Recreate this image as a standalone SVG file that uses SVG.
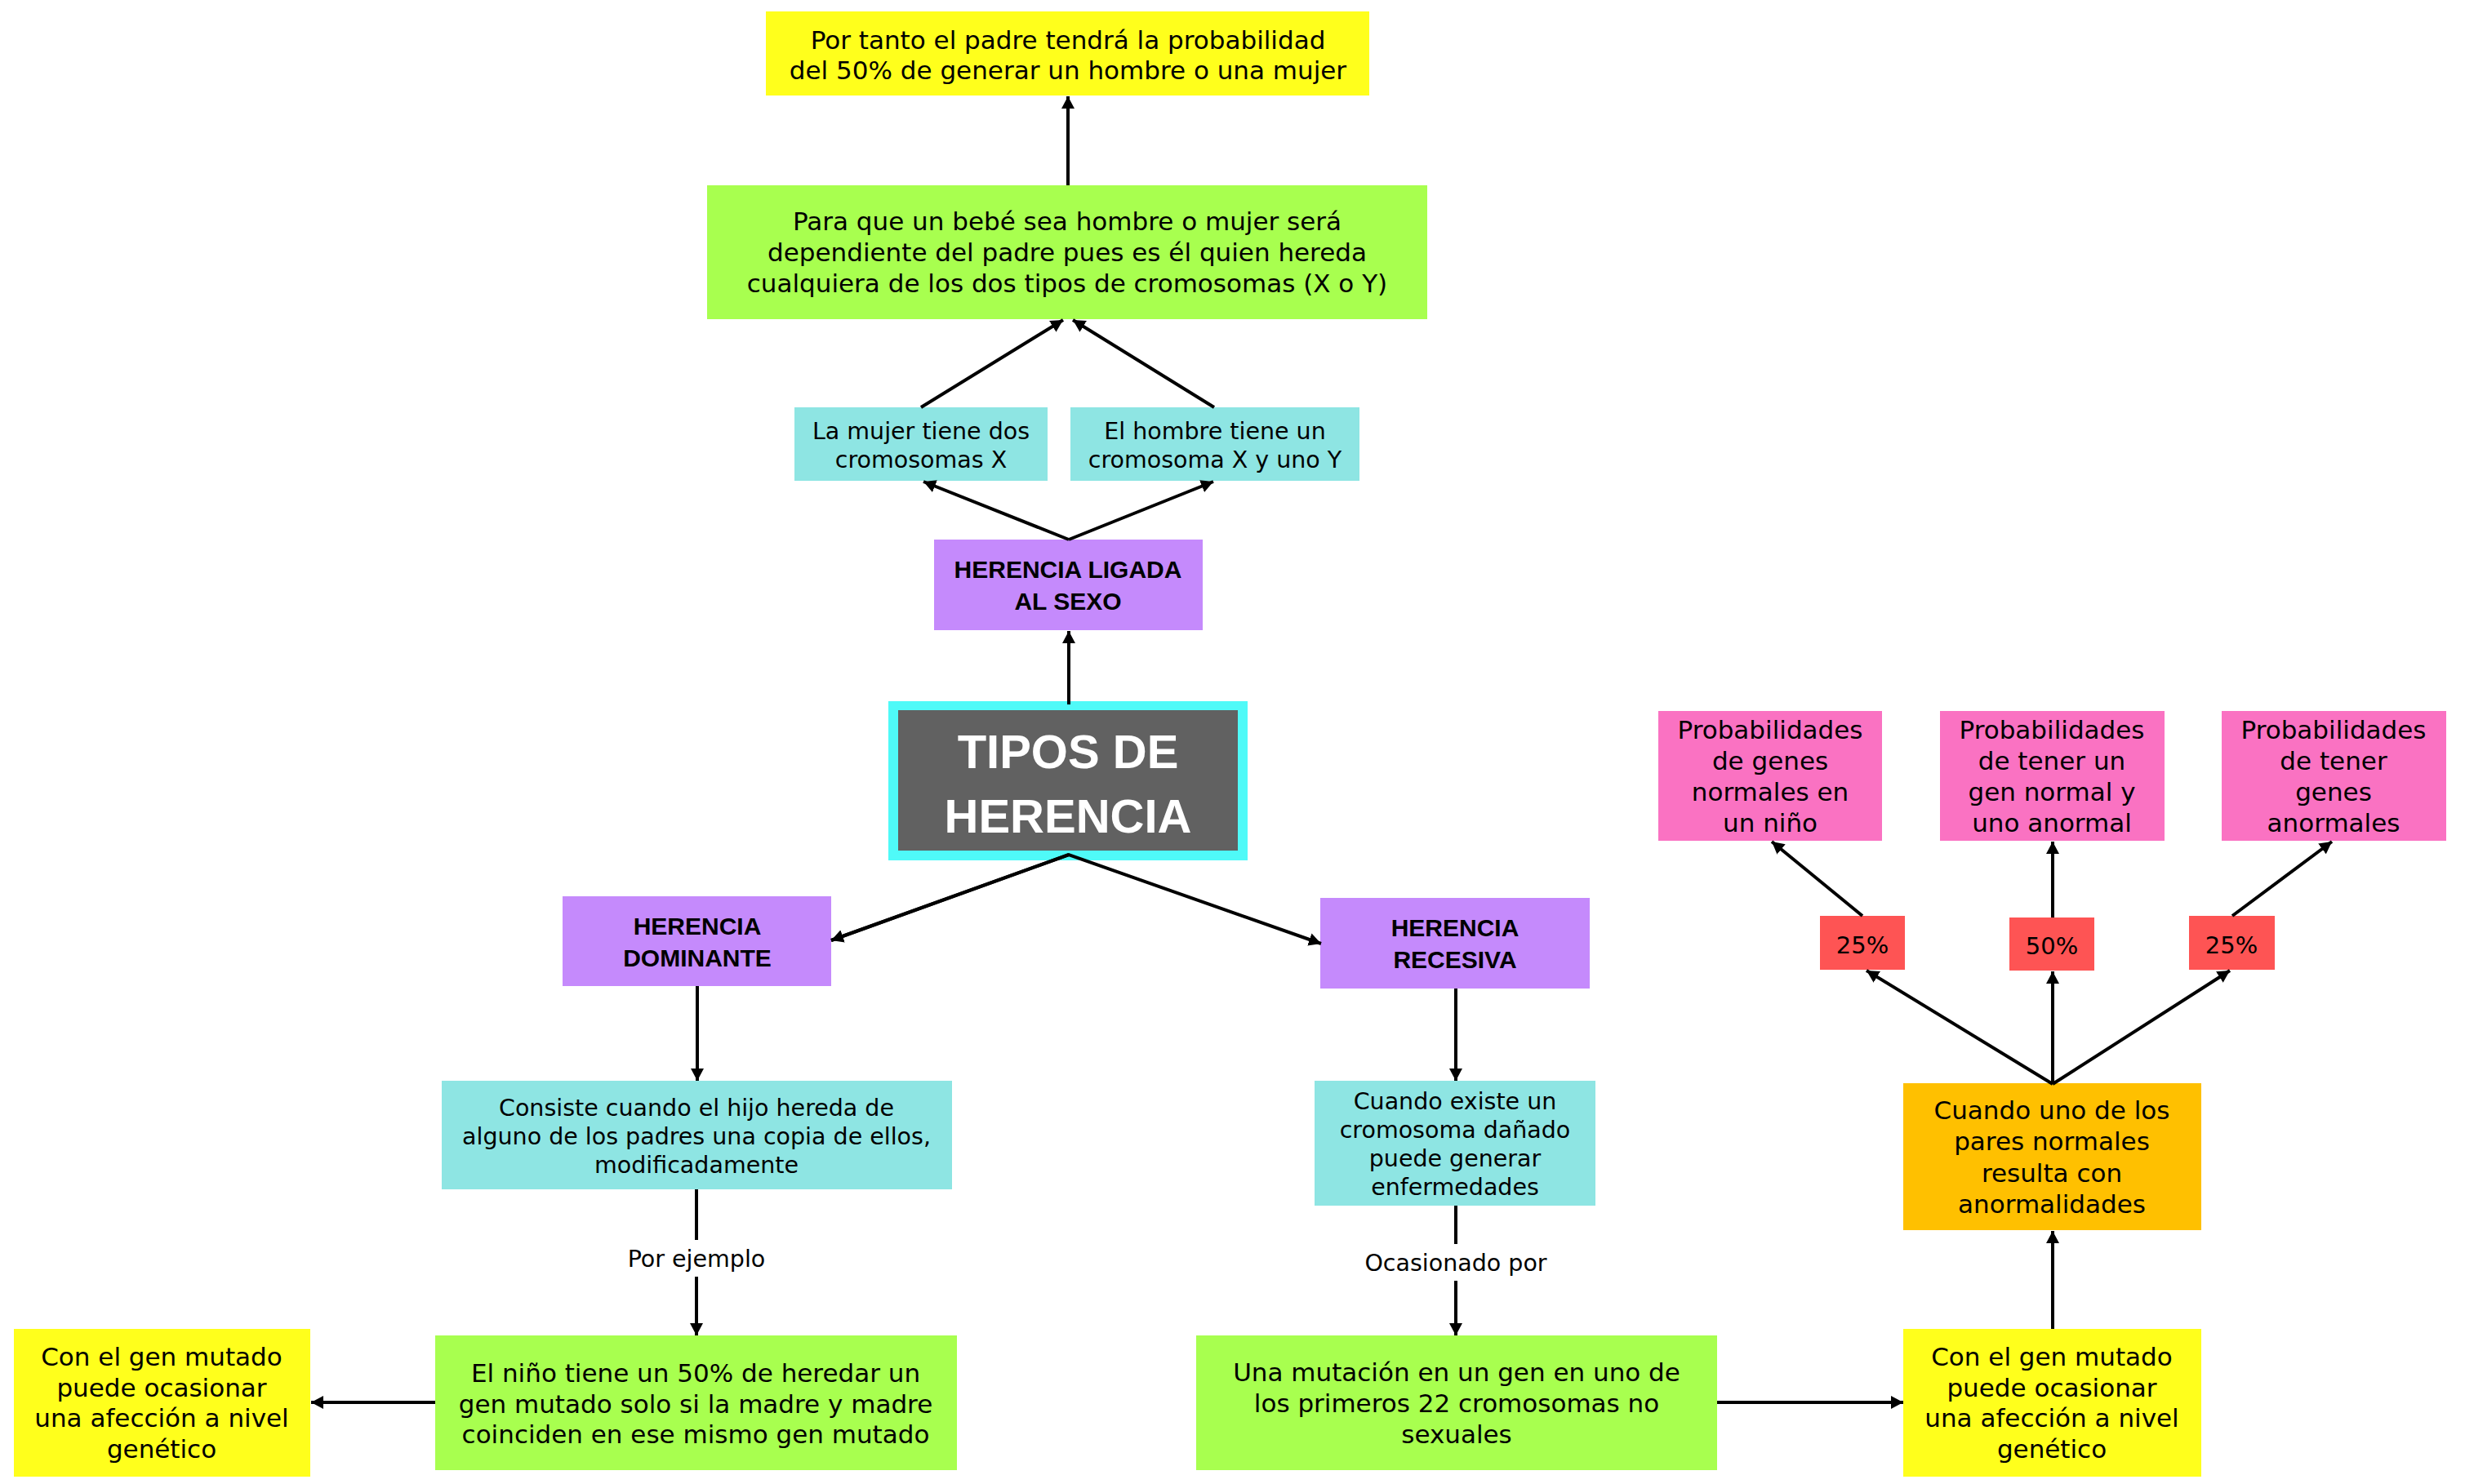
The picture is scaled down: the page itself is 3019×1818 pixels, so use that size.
<svg xmlns="http://www.w3.org/2000/svg" width="3019" height="1818" viewBox="0 0 3019 1818">
<style>
.t{font-family:"DejaVu Sans","Liberation Sans",sans-serif;font-size:31px;fill:#000;text-anchor:middle}
.s{font-size:28.5px}
.b{font-family:"Liberation Sans",Arial,sans-serif;font-weight:bold;font-size:30px;fill:#000;text-anchor:middle}
.big{font-family:"Liberation Sans",Arial,sans-serif;font-weight:bold;font-size:58px;fill:#fff;text-anchor:middle}
.yel{fill:#ffff1c}.grn{fill:#a8ff4f}.cya{fill:#8ee5e3}.pur{fill:#c58afc}.pnk{fill:#fa72c2}.red{fill:#fe5454}.org{fill:#ffc000}
.c line,.c path{stroke:#000;stroke-width:4;fill:none}
</style>
<defs>
<marker id="ah" viewBox="0 0 15 16" refX="15" refY="8" markerWidth="15" markerHeight="16" markerUnits="userSpaceOnUse" orient="auto">
<path d="M0,0 L15,8 L0,16 z" fill="#000"/>
</marker>
</defs>
<rect width="3019" height="1818" fill="#fff"/>

<g id="n-padre50">
<rect class="yel" x="938" y="14" width="739" height="103"/>
<text class="t" x="1308" y="60">Por tanto el padre tendrá la probabilidad</text>
<text class="t" x="1308" y="97">del 50% de generar un hombre o una mujer</text>
</g>
<g id="n-bebe">
<rect class="grn" x="866" y="227" width="882" height="164"/>
<text class="t" x="1307" y="282">Para que un bebé sea hombre o mujer será</text>
<text class="t" x="1307" y="320">dependiente del padre pues es él quien hereda</text>
<text class="t" x="1307" y="358">cualquiera de los dos tipos de cromosomas (X o Y)</text>
</g>
<g id="n-mujer">
<rect class="cya" x="973" y="499" width="310" height="90"/>
<text class="t s" x="1128" y="538">La mujer tiene dos</text>
<text class="t s" x="1128" y="573">cromosomas X</text>
</g>
<g id="n-hombre">
<rect class="cya" x="1311" y="499" width="354" height="90"/>
<text class="t s" x="1488" y="538">El hombre tiene un</text>
<text class="t s" x="1488" y="573">cromosoma X y uno Y</text>
</g>
<g id="n-ligada">
<rect class="pur" x="1144" y="661" width="329" height="111"/>
<text class="b" x="1308" y="708">HERENCIA LIGADA</text>
<text class="b" x="1308" y="747">AL SEXO</text>
</g>
<g id="n-tipos">
<rect x="1088" y="859" width="440" height="195" fill="#4ffaf8"/>
<rect x="1100" y="870" width="416" height="172" fill="#616161"/>
<text class="big" x="1308" y="941">TIPOS DE</text>
<text class="big" x="1308" y="1020">HERENCIA</text>
</g>
<g id="n-dominante">
<rect class="pur" x="689" y="1098" width="329" height="110"/>
<text class="b" x="854" y="1145">HERENCIA</text>
<text class="b" x="854" y="1184">DOMINANTE</text>
</g>
<g id="n-recesiva">
<rect class="pur" x="1617" y="1100" width="330" height="111"/>
<text class="b" x="1782" y="1147">HERENCIA</text>
<text class="b" x="1782" y="1186">RECESIVA</text>
</g>
<g id="n-consiste">
<rect class="cya" x="541" y="1324" width="625" height="133"/>
<text class="t s" x="853" y="1367">Consiste cuando el hijo hereda de</text>
<text class="t s" x="853" y="1402">alguno de los padres una copia de ellos,</text>
<text class="t s" x="853" y="1437">modificadamente</text>
</g>
<g id="n-cuando-existe">
<rect class="cya" x="1610" y="1324" width="344" height="153"/>
<text class="t s" x="1782" y="1359">Cuando existe un</text>
<text class="t s" x="1782" y="1394">cromosoma dañado</text>
<text class="t s" x="1782" y="1429">puede generar</text>
<text class="t s" x="1782" y="1464">enfermedades</text>
</g>
<g id="n-gen-left">
<rect class="yel" x="17" y="1628" width="363" height="181"/>
<text class="t" x="198" y="1673">Con el gen mutado</text>
<text class="t" x="198" y="1711">puede ocasionar</text>
<text class="t" x="198" y="1748">una afección a nivel</text>
<text class="t" x="198" y="1786">genético</text>
</g>
<g id="n-nino">
<rect class="grn" x="533" y="1636" width="639" height="165"/>
<text class="t" x="852" y="1693">El niño tiene un 50% de heredar un</text>
<text class="t" x="852" y="1731">gen mutado solo si la madre y madre</text>
<text class="t" x="852" y="1768">coinciden en ese mismo gen mutado</text>
</g>
<g id="n-mutacion">
<rect class="grn" x="1465" y="1636" width="638" height="165"/>
<text class="t" x="1784" y="1692">Una mutación en un gen en uno de</text>
<text class="t" x="1784" y="1730">los primeros 22 cromosomas no</text>
<text class="t" x="1784" y="1768">sexuales</text>
</g>
<g id="n-gen-right">
<rect class="yel" x="2331" y="1628" width="365" height="181"/>
<text class="t" x="2513" y="1673">Con el gen mutado</text>
<text class="t" x="2513" y="1711">puede ocasionar</text>
<text class="t" x="2513" y="1748">una afección a nivel</text>
<text class="t" x="2513" y="1786">genético</text>
</g>
<g id="n-pares">
<rect class="org" x="2331" y="1327" width="365" height="180"/>
<text class="t" x="2513" y="1371">Cuando uno de los</text>
<text class="t" x="2513" y="1409">pares normales</text>
<text class="t" x="2513" y="1448">resulta con</text>
<text class="t" x="2513" y="1486">anormalidades</text>
</g>
<g id="n-p25a">
<rect class="red" x="2229" y="1122" width="104" height="66"/>
<text class="t" x="2281" y="1168" style="font-size:29px">25%</text>
</g>
<g id="n-p50">
<rect class="red" x="2461" y="1124" width="104" height="65"/>
<text class="t" x="2513" y="1169" style="font-size:29px">50%</text>
</g>
<g id="n-p25b">
<rect class="red" x="2681" y="1122" width="105" height="66"/>
<text class="t" x="2733" y="1168" style="font-size:29px">25%</text>
</g>
<g id="n-normales">
<rect class="pnk" x="2031" y="871" width="274" height="159"/>
<text class="t" x="2168" y="905">Probabilidades</text>
<text class="t" x="2168" y="943">de genes</text>
<text class="t" x="2168" y="981">normales en</text>
<text class="t" x="2168" y="1019">un niño</text>
</g>
<g id="n-uno-anormal">
<rect class="pnk" x="2376" y="871" width="275" height="159"/>
<text class="t" x="2513" y="905">Probabilidades</text>
<text class="t" x="2513" y="943">de tener un</text>
<text class="t" x="2513" y="981">gen normal y</text>
<text class="t" x="2513" y="1019">uno anormal</text>
</g>
<g id="n-anormales">
<rect class="pnk" x="2721" y="871" width="275" height="159"/>
<text class="t" x="2858" y="905">Probabilidades</text>
<text class="t" x="2858" y="943">de tener</text>
<text class="t" x="2858" y="981">genes</text>
<text class="t" x="2858" y="1019">anormales</text>
</g>

<g class="c" id="connectors">
<line x1="1308" y1="227" x2="1308" y2="118" marker-end="url(#ah)"/>
<line x1="1128" y1="499" x2="1302" y2="392" marker-end="url(#ah)"/>
<line x1="1487" y1="499" x2="1314" y2="392" marker-end="url(#ah)"/>
<line x1="1309" y1="661" x2="1131" y2="590" marker-end="url(#ah)"/>
<line x1="1309" y1="661" x2="1486" y2="590" marker-end="url(#ah)"/>
<line x1="1309" y1="863" x2="1309" y2="773" marker-end="url(#ah)"/>
<path d="M1018,1152 L1309,1047 L1618,1156" marker-end="url(#ah)" stroke-linejoin="miter"/>
<path d="M1309,1047 L1018,1152" marker-end="url(#ah)"/>
<line x1="854" y1="1208" x2="854" y2="1324" marker-end="url(#ah)"/>
<line x1="853" y1="1457" x2="853" y2="1519"/>
<line x1="853" y1="1564" x2="853" y2="1636" marker-end="url(#ah)"/>
<line x1="533" y1="1718" x2="381" y2="1718" marker-end="url(#ah)"/>
<line x1="1783" y1="1211" x2="1783" y2="1324" marker-end="url(#ah)"/>
<line x1="1783" y1="1477" x2="1783" y2="1524"/>
<line x1="1783" y1="1569" x2="1783" y2="1636" marker-end="url(#ah)"/>
<line x1="2103" y1="1718" x2="2331" y2="1718" marker-end="url(#ah)"/>
<line x1="2514" y1="1628" x2="2514" y2="1508" marker-end="url(#ah)"/>
<line x1="2514" y1="1328" x2="2286" y2="1189" marker-end="url(#ah)"/>
<line x1="2514" y1="1328" x2="2514" y2="1190" marker-end="url(#ah)"/>
<line x1="2514" y1="1328" x2="2731" y2="1189" marker-end="url(#ah)"/>
<line x1="2281" y1="1122" x2="2170" y2="1031" marker-end="url(#ah)"/>
<line x1="2514" y1="1124" x2="2514" y2="1031" marker-end="url(#ah)"/>
<line x1="2734" y1="1122" x2="2856" y2="1031" marker-end="url(#ah)"/>
<text class="t s" x="853" y="1552">Por ejemplo</text>
<text class="t s" x="1783" y="1557">Ocasionado por</text>
</g>
</svg>
